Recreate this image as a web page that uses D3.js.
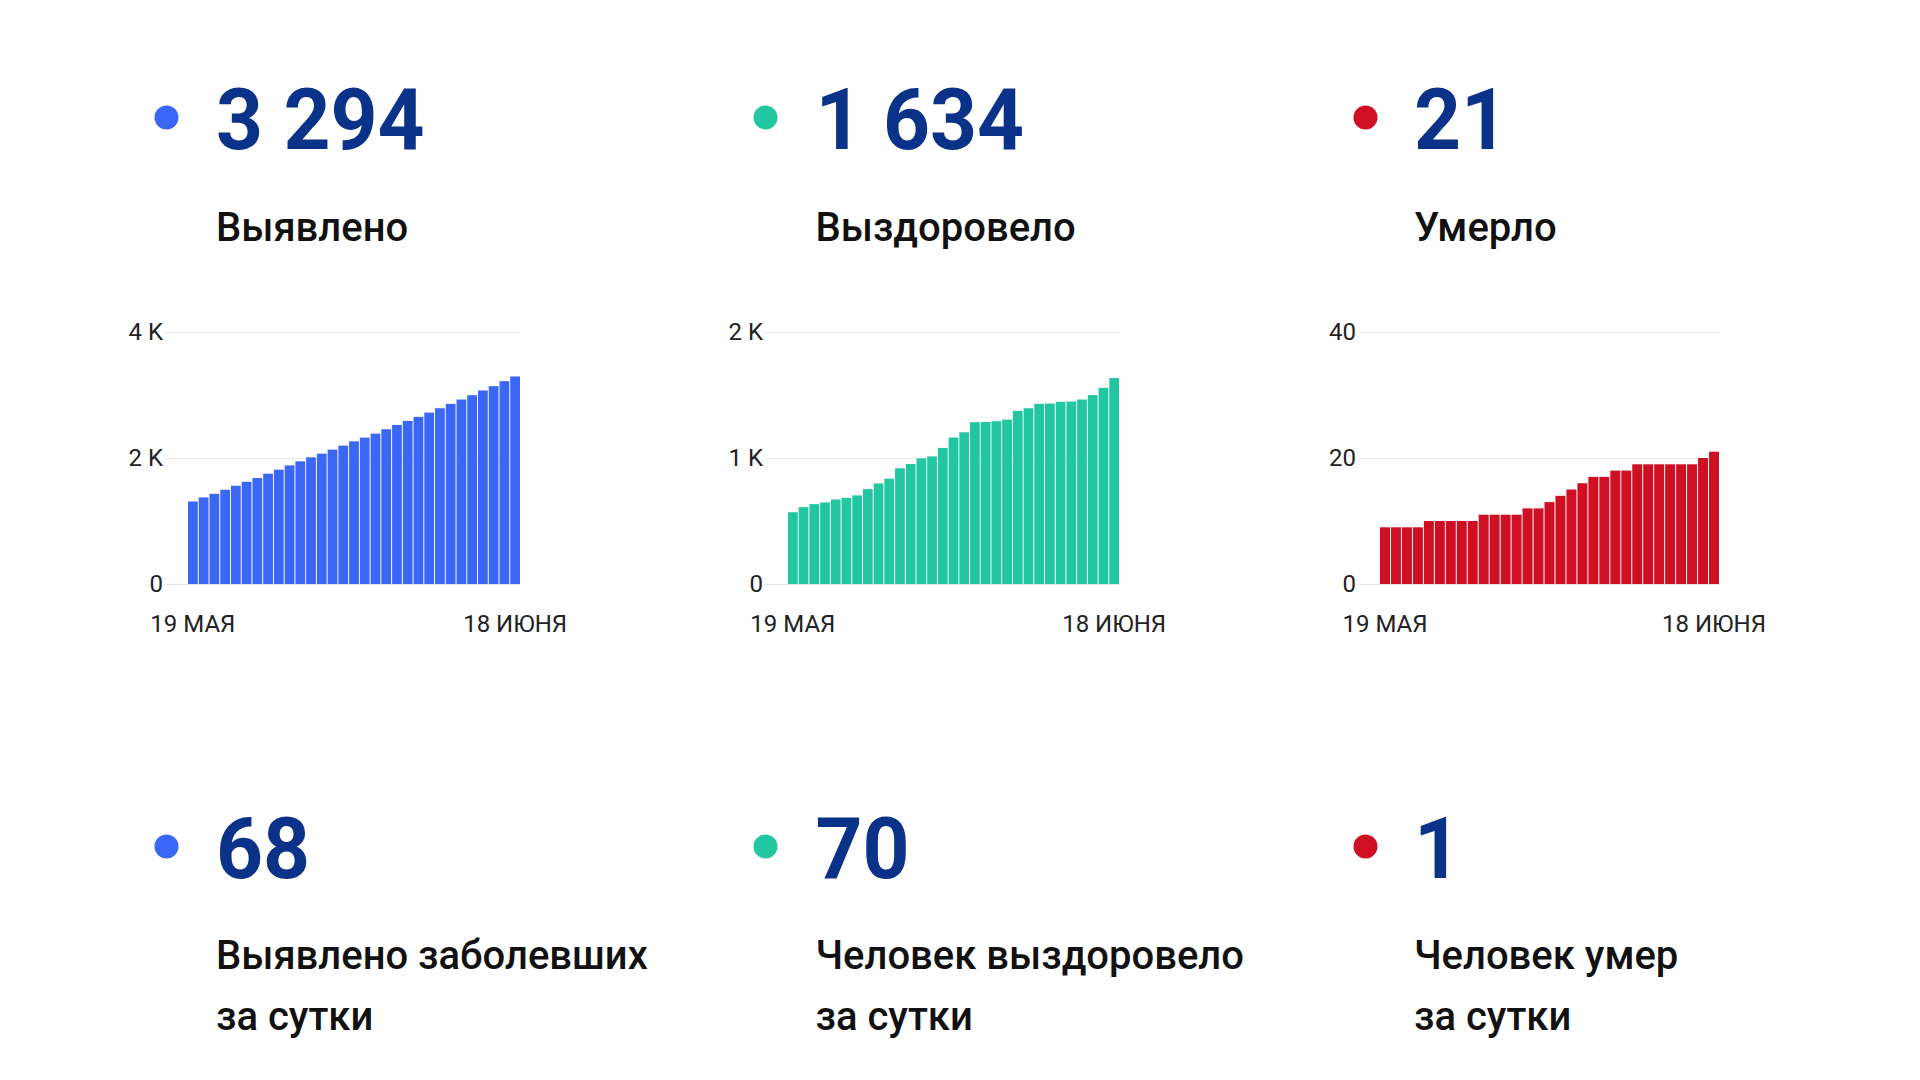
<!DOCTYPE html>
<html><head><meta charset="utf-8">
<script src="https://cdn.jsdelivr.net/npm/d3@7"></script>
<style>html,body{margin:0;padding:0;background:#fff;} svg{display:block;font-family:Roboto,"Noto Sans",sans-serif;}</style>
</head><body><svg id="c" width="1920" height="1080"></svg>
<script>
// ---- data ----
const days = ["19.05","20.05","21.05","22.05","23.05","24.05","25.05","26.05","27.05","28.05","29.05","30.05","31.05",
  "01.06","02.06","03.06","04.06","05.06","06.06","07.06","08.06","09.06","10.06","11.06","12.06","13.06","14.06",
  "15.06","16.06","17.06","18.06"];
const xTickLabels = ["19 МАЯ", "18 ИЮНЯ"];
const detected = [1310,1374,1432,1496,1560,1623,1682,1751,1814,1883,1947,2011,2069,2133,2196,2265,2324,2387,2456,2525,
  2589,2653,2721,2790,2859,2928,2997,3072,3141,3220,3294];
const recovered = [570,610,634,647,671,684,703,753,798,836,918,952,997,1013,1080,1162,1204,1284,1286,1292,1305,1374,
  1395,1430,1432,1446,1448,1464,1499,1557,1634];
const deaths = [9,9,9,9,10,10,10,10,10,11,11,11,11,12,12,13,14,15,16,17,17,18,18,19,19,19,19,19,19,20,21];
const totals = ["3 294", "1 634", "21"];
const totalLabels = ["Выявлено", "Выздоровело", "Умерло"];
const daily = ["68", "70", "1"];
const dailyLabels = [["Выявлено заболевших", "за сутки"], ["Человек выздоровело", "за сутки"], ["Человек умер", "за сутки"]];
const yTicks = [[0, 2000, 4000], [0, 1000, 2000], [0, 20, 40]];
const yTickLabels = [["0", "2 K", "4 K"], ["0", "1 K", "2 K"], ["0", "20", "40"]];
const series = [detected, recovered, deaths];
const colors = ["#3b67f7", "#22c6a1", "#cf0f22"];
const navy = "#0a3288";

// ---- layout ----
const dotX = [166.5, 765.5, 1365.5];
const textX = [216, 815.5, 1414];
const labelRight = [163, 763, 1356];
const barX0 = [188, 788, 1380];
const barX1 = [520, 1119, 1719];
const plotTop = 332, plotBottom = 584;

const svg = d3.select("#c");

for (let i = 0; i < 3; i++) {
  const g = svg.append("g");
  // top block
  g.append("circle").attr("cx", dotX[i]).attr("cy", 117.5).attr("r", 12).attr("fill", colors[i]);
  g.append("text").attr("transform", `translate(${textX[i]},149) scale(0.965,1)`)
    .attr("font-size", 85).attr("font-weight", 700).attr("fill", navy).text(totals[i]);
  g.append("text").attr("x", textX[i]).attr("y", 241).attr("font-size", 40).attr("font-weight", 500)
    .attr("fill", "#111").text(totalLabels[i]);

  // chart
  const x = d3.scaleBand().domain(days).range([barX0[i], barX1[i]]).paddingInner(0.09).paddingOuter(0);
  const y = d3.scaleLinear().domain([0, yTicks[i][2]]).range([plotBottom, plotTop]);

  const grid = g.append("g");
  yTicks[i].forEach((t, k) => {
    grid.append("line").attr("x1", labelRight[i] + 2).attr("x2", barX1[i])
      .attr("y1", Math.round(y(t)) + 0.5).attr("y2", Math.round(y(t)) + 0.5)
      .attr("stroke", "#e6e6e6").attr("stroke-width", 1);
    grid.append("text").attr("x", labelRight[i]).attr("y", y(t)).attr("dy", "0.35em")
      .attr("text-anchor", "end").attr("font-size", 24).attr("fill", "#222").text(yTickLabels[i][k]);
  });

  g.append("g").selectAll("rect").data(series[i]).join("rect")
    .attr("x", (d, k) => x(days[k])).attr("width", x.bandwidth())
    .attr("y", d => y(d)).attr("height", d => plotBottom - y(d))
    .attr("fill", colors[i]);

  const firstDay = days[0], lastDay = days[days.length - 1];
  [[firstDay, xTickLabels[0]], [lastDay, xTickLabels[1]]].forEach(([dd, lab]) => {
    g.append("text").attr("x", x(dd) + x.bandwidth() / 2).attr("y", 632).attr("text-anchor", "middle")
      .attr("font-size", 24).attr("fill", "#222").text(lab);
  });

  // bottom block
  g.append("circle").attr("cx", dotX[i]).attr("cy", 846.5).attr("r", 12).attr("fill", colors[i]);
  g.append("text").attr("transform", `translate(${textX[i]},878) scale(0.965,1)`)
    .attr("font-size", 85).attr("font-weight", 700).attr("fill", navy).text(daily[i]);
  dailyLabels[i].forEach((line, k) => {
    g.append("text").attr("x", textX[i]).attr("y", 969 + k * 61).attr("font-size", 40).attr("font-weight", 500)
      .attr("fill", "#111").text(line);
  });
}
</script></body></html>
